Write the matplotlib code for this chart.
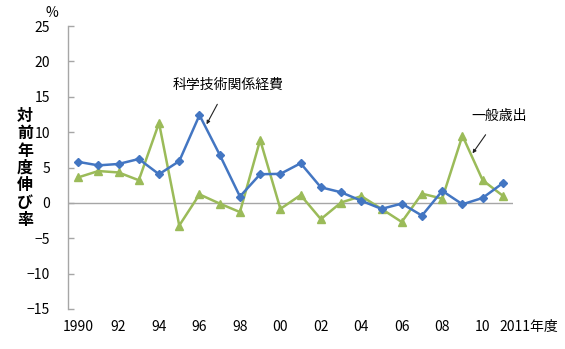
import matplotlib
matplotlib.use("Agg")
import matplotlib.pyplot as plt
import numpy as np

plt.rcParams['font.family'] = ['Noto Sans CJK JP', 'DejaVu Sans']

years = list(range(1990, 2012))
tick_years = list(range(1990, 2011, 2))
tick_labels = ["1990", "92", "94", "96", "98", "00", "02", "04", "06", "08", "10"]
y_ticks = list(range(-15, 26, 5))
y_tick_labels = ["\u221215", "\u221210", "\u22125", "0", "5", "10", "15", "20", "25"]

# 科学技術関係経費 (%)
science = [5.8, 5.3, 5.5, 6.2, 4.05, 5.9, 12.4, 6.8, 0.9, 4.05, 4.1, 5.6,
           2.2, 1.5, 0.3, -0.85, -0.1, -1.8, 1.7, -0.2, 0.7, 2.8]
# 一般歳出 (%)
general = [3.6, 4.5, 4.3, 3.2, 11.3, -3.2, 1.2, -0.1, -1.3, 8.9, -0.85, 1.1,
           -2.3, 0.05, 0.95, -0.85, -2.7, 1.3, 0.6, 9.5, 3.2, 1.0]

blue = "#4376C2"
green = "#9BBB59"
axis_gray = "#A6A6A6"

fig = plt.figure(figsize=(5.65, 3.49), dpi=100)
ax = fig.add_axes([68 / 565, (349 - 309) / 349, (513 - 68) / 565, (309 - 26) / 349])

ax.plot(years, general, color=green, lw=1.8, marker="^", ms=5.5, zorder=3)
ax.plot(years, science, color=blue, lw=1.8, marker="D", ms=4, zorder=4)

ax.axhline(0, color=axis_gray, lw=1, zorder=1)

ax.set_xlim(1989.5, 2011.5)
ax.set_ylim(-15, 25)
ax.set_yticks(y_ticks)
ax.set_yticklabels(y_tick_labels)
ax.set_xticks(tick_years)
ax.set_xticklabels(tick_labels)

for s in ["top", "right", "bottom"]:
    ax.spines[s].set_visible(False)
ax.spines["left"].set_color(axis_gray)
ax.spines["left"].set_linewidth(1)

ax.tick_params(axis="y", direction="in", length=4, color=axis_gray, width=1,
               labelsize=10, pad=13)
ax.tick_params(axis="x", length=0, labelsize=10, pad=8)

# last year label sits a little to the right of its point
ax.annotate("2011年度", xy=(2010.85, 0), xycoords=("data", "axes fraction"),
            xytext=(0, -8), textcoords="offset points", ha="left", va="top",
            fontsize=10)

fig.text(52 / 565, 1 - 13 / 349, "%", ha="center", va="center", fontsize=10)
fig.text(25 / 565, 1 - 168 / 349, "\n".join("対前年度伸び率"), ha="center",
         va="center", fontsize=11.5, fontweight="bold", linespacing=1.1)

arrow = dict(arrowstyle="-|>", color="#222222", lw=0.8, mutation_scale=5,
             shrinkA=8, shrinkB=0)
ax.annotate("科学技術関係経費", xy=(1996.35, 11.1), xytext=(1997.4, 16.7),
            ha="center", va="center", fontsize=10, arrowprops=arrow)
ax.annotate("一般歳出", xy=(2009.5, 7.0), xytext=(2010.8, 12.3),
            ha="center", va="center", fontsize=10, arrowprops=arrow)

fig.savefig("out.png", dpi=100)
